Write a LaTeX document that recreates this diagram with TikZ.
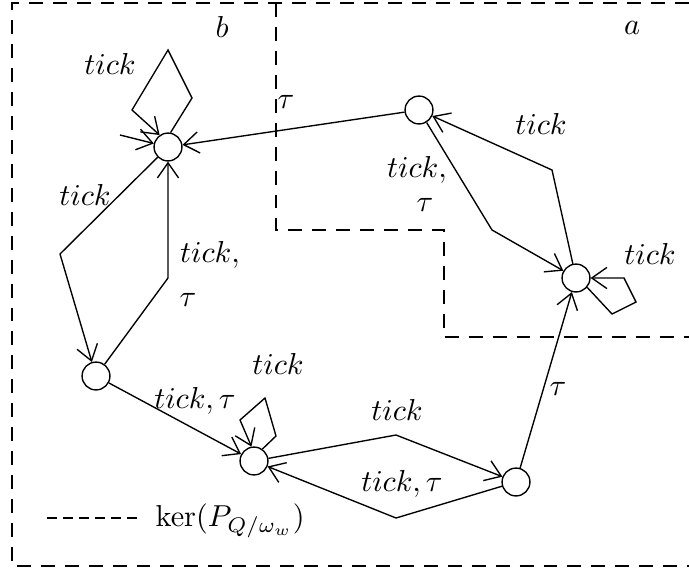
\documentclass[tikz,border=0pt]{standalone}
\usepackage{amsmath}
\usetikzlibrary{arrows.meta}
\tikzset{
  st/.style={draw, circle, minimum size=9.2pt, inner sep=0pt, line width=0.45pt},
  flow/.style={-{Straight Barb[length=5pt,width=7pt]}, line width=0.45pt},
  region/.style={line width=0.45pt, dash pattern=on 4.6pt off 3.3pt},
  keyline/.style={line width=0.45pt, dash pattern=on 3.3pt off 2pt},
  lbl/.style={inner sep=0pt}
}

\begin{document}
\begin{tikzpicture}[x=0.33pt,y=-0.33pt]
  \useasboundingbox (0,0) rectangle (689,569);
  \draw[region] (689,3) -- (12,3) -- (12,566) -- (689,566);
  \draw[region] (276,3) -- (276,230) -- (444,230) -- (444,337) -- (689,337);
  \node[lbl] at (222,27) {$b$};
  \node[lbl] at (632,28) {$a$};

  \node[st] (n1) at (168,147) {};
  \node[st] (n2) at (419,110) {};
  \node[st] (n3) at (576,278) {};
  \node[st] (n4) at (96,376) {};
  \node[st] (n5) at (254,461) {};
  \node[st] (n6) at (516,482) {};
  \coordinate (init) at (120,135);

  \draw[flow] (init) -- (n1);
  \draw[flow] (n1.80) -- (192,98) -- (168,50) -- (132,110) -- (n1.125);
  \node[lbl] at (110,64) {$tick$};
  \draw[flow] (n2) -- (n1);
  \node[lbl] at (286,102) {$\tau$};
  \draw[flow] (n1) -- (60,254) -- (n4);
  \node[lbl] at (85,195) {$tick$};
  \draw[flow] (n4) -- (168,278) -- (n1);
  \node[lbl] at (210,255) {$tick,$};
  \node[lbl] at (188,300) {$\tau$};
  \draw[flow] (n4) -- (n5);
  \node[lbl] at (195,401) {$tick,\tau$};
  \draw[flow] (n5.55) -- (276,436) -- (265,398) -- (240,420) -- (n5.100);
  \node[lbl] at (278,364) {$tick$};
  \draw[flow] (n5) -- (396,435) -- (n6);
  \node[lbl] at (397,410) {$tick$};
  \draw[flow] (n6) -- (396,518) -- (n5);
  \node[lbl] at (402,484) {$tick,\tau$};
  \draw[flow] (n6) -- (n3);
  \node[lbl] at (558,389) {$\tau$};
  \draw[flow] (n2) -- (492,230) -- (n3);
  \node[lbl] at (417,170) {$tick,$};
  \node[lbl] at (425,205) {$\tau$};
  \draw[flow] (n3) -- (552,170) -- (n2);
  \node[lbl] at (541,124) {$tick$};
  \draw[flow] (n3.-40) -- (612,314) -- (636,302) -- (624,278) -- (n3.0);
  \node[lbl] at (650,254) {$tick$};

  \coordinate (keyl) at (47,518);
  \coordinate (keyr) at (143,518);
  \draw[keyline] (keyl) -- (keyr);
  \node[lbl, anchor=west] at (155,521) {$\ker(P_{Q/\omega_w})$};
\end{tikzpicture}
\end{document}
